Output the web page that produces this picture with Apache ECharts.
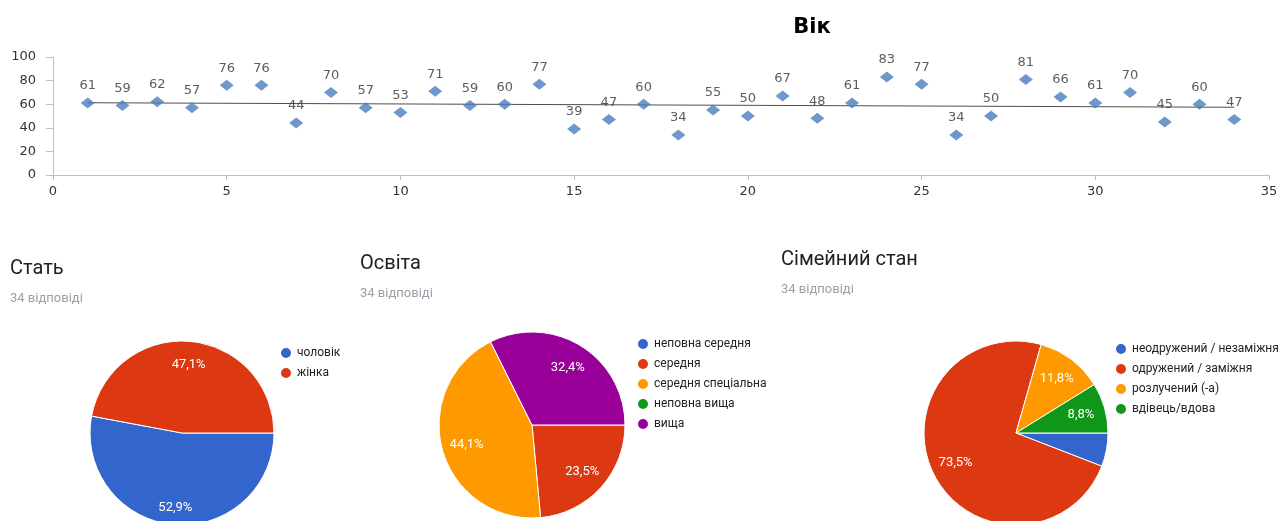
<!DOCTYPE html>
<html><head><meta charset="utf-8">
<script src="https://cdn.jsdelivr.net/npm/echarts@6/dist/echarts.min.js"></script>
<style>html,body{margin:0;padding:0;background:#fff}#c{width:1282px;height:521px}</style>
</head><body><div id="c"></div>
<script>
// ---- data ----
const ageTitle = 'Вік';
const ageIndex = [1,2,3,4,5,6,7,8,9,10,11,12,13,14,15,16,17,18,19,20,21,22,23,24,25,26,27,28,29,30,31,32,33,34];
const ageValues = [61,59,62,57,76,76,44,70,57,53,71,59,60,77,39,47,60,34,55,50,67,48,61,83,77,34,50,81,66,61,70,45,60,47];
const responsesText = '34 відповіді';
const sexTitle = 'Стать';
const sexNames = ['чоловік','жінка'];
const sexCounts = [18,16];
const eduTitle = 'Освіта';
const eduNames = ['неповна середня','середня','середня спеціальна','неповна вища','вища'];
const eduCounts = [0,8,15,0,11];
const famTitle = 'Сімейний стан';
const famNames = ['неодружений / незаміжня','одружений / заміжня','розлучений (-а)','вдівець/вдова'];
const famCounts = [2,25,4,3];
const palette = ['#3366cc','#dc3912','#ff9900','#109618','#990099'];

// ---- linear trend (least squares on the data) ----
const n = ageIndex.length;
const mx = ageIndex.reduce((a,b)=>a+b,0)/n;
const my = ageValues.reduce((a,b)=>a+b,0)/n;
let sxy = 0, sxx = 0;
ageIndex.forEach((x,i)=>{ sxy += (x-mx)*(ageValues[i]-my); sxx += (x-mx)*(x-mx); });
const slope = sxy/sxx, icpt = my - slope*mx;
const x0 = ageIndex[0], x1 = ageIndex[n-1];
const trend = [[x0, icpt+slope*x0],[x1, icpt+slope*x1]];

const FONT = 'Roboto, "Noto Sans", Arial, sans-serif';

function pieSeries(names, counts, center, r, ri, dy) {
  const data = names.map((nm,i)=>({name:nm, value:counts[i], itemStyle:{color:palette[i]}}));
  return [
    {
      type:'pie', center:center, radius:[0,r], startAngle:0, clockwise:true,
      data:data, label:{show:false}, labelLine:{show:false},
      itemStyle:{borderColor:'#fff', borderWidth:1},
      emphasis:{disabled:true}, silent:true, percentPrecision:1
    },
    {
      type:'pie', center:center, radius:[ri,r], startAngle:0, clockwise:true,
      data:names.map((nm,i)=>({name:nm, value:counts[i]})),
      itemStyle:{color:'rgba(0,0,0,0)', borderWidth:0},
      labelLine:{show:false}, emphasis:{disabled:true}, silent:true, percentPrecision:1,
      label:{show:true, position:'inside', color:'#fff', fontSize:13, fontFamily:FONT, offset:[0,dy],
        formatter:p => p.percent < 7 ? '' : (p.percent.toFixed(1).replace('.', ',') + '%')}
    }
  ];
}

function legend(names, left, top) {
  return {data:names, orient:'vertical', left:left, top:top, icon:'circle',
    itemWidth:12, itemHeight:12, itemGap:6, padding:0, selectedMode:false,
    textStyle:{fontSize:12, color:'#222', fontFamily:FONT}};
}

const titleStyle = {fontFamily:FONT, fontWeight:'normal', fontSize:20, color:'#202124'};
const subStyle = {fontFamily:FONT, fontWeight:'normal', fontSize:13, color:'#9aa0a6'};

const chart = echarts.init(document.getElementById('c'));
chart.setOption({
  animation:false,
  title:[
    {text:ageTitle, left:812, top:17, textAlign:'center', padding:0,
      textStyle:{fontFamily:'DejaVu Sans', fontWeight:'bold', fontSize:21, color:'#000'}},
    {text:sexTitle, left:10, top:259, padding:0, textStyle:titleStyle},
    {text:responsesText, left:10, top:292, padding:0, textStyle:subStyle},
    {text:eduTitle, left:360, top:254, padding:0, textStyle:titleStyle},
    {text:responsesText, left:360, top:287, padding:0, textStyle:subStyle},
    {text:famTitle, left:781, top:250, padding:0, textStyle:titleStyle},
    {text:responsesText, left:781, top:283, padding:0, textStyle:subStyle}
  ],
  legend:[
    legend(sexNames, 279, 346),
    legend(eduNames, 636, 337),
    legend(famNames, 1114, 342)
  ],
  grid:{left:53, right:13, top:57, bottom:346, containLabel:false},
  xAxis:{type:'value', min:0, max:35, interval:5,
    axisLine:{show:true, lineStyle:{color:'#c0c0c0'}},
    axisTick:{show:true, length:5, lineStyle:{color:'#c0c0c0'}},
    splitLine:{show:false},
    axisLabel:{color:'#333', fontFamily:'DejaVu Sans', fontSize:13, margin:10}},
  yAxis:{type:'value', min:0, max:100, interval:20,
    axisLine:{show:true, lineStyle:{color:'#c0c0c0'}},
    axisTick:{show:true, length:7, lineStyle:{color:'#c0c0c0'}},
    splitLine:{show:false},
    axisLabel:{color:'#333', fontFamily:'DejaVu Sans', fontSize:13, margin:17}},
  series:[
    {type:'line', data:trend, symbol:'none', silent:true, z:1,
      lineStyle:{color:'#4d4d4d', width:1}},
    {type:'scatter', data:ageIndex.map((x,i)=>[x, ageValues[i]]), symbol:'diamond', symbolSize:[14,11], z:3,
      itemStyle:{color:'#4a7ebb'},
      label:{show:true, position:'top', distance:5, color:'#333', fontFamily:'DejaVu Sans', fontSize:13,
        formatter:p=>String(p.value[1])}},
    ...pieSeries(sexNames, sexCounts, [182,433], 92, 46, 3),
    ...pieSeries(eduNames, eduCounts, [532,425], 93, 37, 1),
    ...pieSeries(famNames, famCounts, [1016,433], 92, 37, 0)
  ]
});
</script>
</body></html>
